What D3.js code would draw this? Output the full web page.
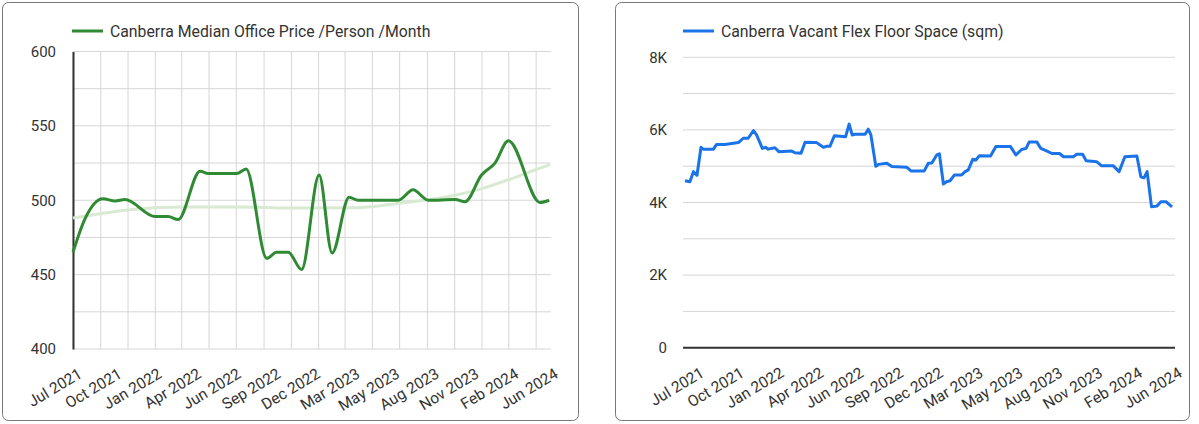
<!DOCTYPE html>
<html>
<head>
<meta charset="utf-8">
<script src="https://cdn.jsdelivr.net/npm/d3@7"></script>
<style>
  body { margin: 0; background: #fff; }
  svg text { font-family: Roboto, "Noto Sans", sans-serif; }
</style>
</head>
<body>
<div id="charts"></div>
<script>
// x axis labels (same on both panels)
var xLabels = ["Jul 2021", "Oct 2021", "Jan 2022", "Apr 2022", "Jun 2022", "Sep 2022", "Dec 2022",
               "Mar 2023", "May 2023", "Aug 2023", "Nov 2023", "Feb 2024", "Jun 2024"];

// left panel: median office price / person / month
var priceTicks = [400, 450, 500, 550, 600];
var priceDates = ["2021-07-01", "2021-07-27", "2021-09-06", "2021-10-03", "2021-10-25", "2022-01-01",
                  "2022-01-30", "2022-02-21", "2022-04-11", "2022-04-29", "2022-07-02", "2022-07-23",
                  "2022-09-07", "2022-09-29", "2022-10-25", "2022-11-24", "2023-01-02", "2023-01-31",
                  "2023-03-10", "2023-03-30", "2023-06-28", "2023-07-31", "2023-09-03", "2023-11-02",
                  "2023-11-24", "2023-12-31", "2024-01-30", "2024-02-29", "2024-05-10", "2024-05-30"];
var priceValues = [465, 487, 501, 499.5, 500.5, 489,
                   489, 487, 519.5, 518, 518, 521,
                   461, 465, 465, 453.5, 517, 464.5,
                   502, 500, 500, 507, 500, 500.5,
                   499, 517, 525, 540, 498.5, 500];
var trendDates = ["2021-07-01", "2021-11-17", "2022-03-02", "2022-07-02", "2022-10-29", "2023-03-30",
                  "2023-07-02", "2023-09-02", "2023-11-02", "2023-12-31", "2024-02-29", "2024-04-25", "2024-06-01"];
var trendValues = [488, 494, 495.5, 495.5, 494.8, 495, 498, 500.3, 503.4, 507.8, 513.8, 520, 524];

// right panel: vacant flex floor space (sqm)
var flexTicks = [0, 1000, 2000, 3000, 4000, 5000, 6000, 7000, 8000];
var flexDates = ["2021-07-01", "2021-07-12", "2021-07-20", "2021-07-25", "2021-07-28", "2021-08-06",
                 "2021-08-11", "2021-09-03", "2021-09-10", "2021-09-29", "2021-10-29", "2021-11-09",
                 "2021-11-20", "2021-12-02", "2021-12-09", "2021-12-22", "2021-12-29", "2022-01-04",
                 "2022-01-19", "2022-01-28", "2022-02-26", "2022-03-05", "2022-03-19", "2022-03-28",
                 "2022-04-23", "2022-05-08", "2022-05-16", "2022-05-23", "2022-06-02", "2022-06-27",
                 "2022-07-05", "2022-07-12", "2022-07-18", "2022-08-10", "2022-08-17", "2022-08-23",
                 "2022-09-03", "2022-09-09", "2022-09-28", "2022-10-09", "2022-11-12", "2022-11-21",
                 "2022-12-21", "2022-12-30", "2023-01-07", "2023-01-18", "2023-01-24", "2023-02-02",
                 "2023-02-09", "2023-02-17", "2023-02-27", "2023-03-15", "2023-03-23", "2023-03-30",
                 "2023-04-09", "2023-04-16", "2023-04-24", "2023-05-19", "2023-05-31", "2023-07-03",
                 "2023-07-15", "2023-07-28", "2023-08-07", "2023-08-14", "2023-08-31", "2023-09-09",
                 "2023-09-22", "2023-10-04", "2023-10-21", "2023-10-30", "2023-11-21", "2023-11-29",
                 "2023-12-12", "2023-12-20", "2024-01-13", "2024-01-24", "2024-02-19", "2024-03-03",
                 "2024-03-16", "2024-04-12", "2024-04-21", "2024-04-28", "2024-05-05", "2024-05-15",
                 "2024-05-27", "2024-06-05", "2024-06-17", "2024-06-30"];
var flexValues = [4600, 4570, 4850, 4780, 4750, 5520,
                  5470, 5470, 5600, 5600, 5650, 5770,
                  5770, 5980, 5860, 5490, 5520, 5470,
                  5510, 5400, 5420, 5370, 5360, 5660,
                  5650, 5520, 5550, 5550, 5840, 5810,
                  6160, 5860, 5880, 5880, 6020, 5860,
                  5000, 5050, 5080, 4990, 4970, 4870,
                  4870, 5080, 5090, 5310, 5340, 4510,
                  4570, 4600, 4760, 4760, 4850, 4900,
                  5190, 5170, 5290, 5280, 5540, 5540,
                  5310, 5460, 5490, 5670, 5670, 5490,
                  5420, 5350, 5350, 5260, 5260, 5330,
                  5330, 5150, 5120, 5010, 5010, 4850,
                  5260, 5280, 4710, 4680, 4850, 3880,
                  3900, 4020, 4020, 3880];

var parseDate = d3.timeParse("%Y-%m-%d");

var svg = d3.select("#charts")
  .append("svg")
    .attr("width", 1199)
    .attr("height", 424);

// panel frames
svg.append("rect")
  .attr("x", 2.5).attr("y", 2.5).attr("width", 576).attr("height", 418).attr("rx", 6)
  .attr("fill", "#fff").attr("stroke", "#777");
svg.append("rect")
  .attr("x", 615.5).attr("y", 2.5).attr("width", 574).attr("height", 418).attr("rx", 6)
  .attr("fill", "#fff").attr("stroke", "#777");

function drawXLabels(g, range, yBase) {
  var xl = d3.scalePoint().domain(xLabels).range(range);
  var ax = g.append("g")
    .attr("transform", "translate(0," + yBase + ")")
    .call(d3.axisBottom(xl).tickSize(0));
  ax.select(".domain").remove();
  ax.selectAll("text")
    .attr("font-size", 15.5)
    .attr("fill", "#333")
    .attr("text-anchor", "end")
    .attr("transform", "translate(7,23) rotate(-31)")
    .attr("dy", "0.35em")
    .attr("y", 0);
}

function drawLegend(g, x, y, color, label) {
  g.append("line")
    .attr("x1", x).attr("x2", x + 31).attr("y1", y).attr("y2", y)
    .attr("stroke", color).attr("stroke-width", 3);
  g.append("text")
    .attr("x", x + 38).attr("y", y + 5.5)
    .attr("font-size", 15.8).attr("fill", "#333")
    .text(label);
}

// ---------- left chart ----------
var left = svg.append("g");
var xL = d3.scaleTime()
  .domain([parseDate("2021-07-01"), parseDate("2024-06-01")])
  .range([73, 550]);
var yL = d3.scaleLinear().domain([400, 600]).range([349, 51.5]);

// horizontal grid every 25
var hGrid = d3.range(400, 601, 25);
left.append("g").selectAll("line")
  .data(hGrid).enter().append("line")
    .attr("x1", 73).attr("x2", 551)
    .attr("y1", function(d) { return yL(d); })
    .attr("y2", function(d) { return yL(d); })
    .attr("stroke", "#d6d6d6").attr("stroke-width", 1);
// vertical grid every 2 months
left.append("g").selectAll("line")
  .data(xL.ticks(d3.timeMonth.every(2))).enter().append("line")
    .attr("x1", function(d) { return xL(d); })
    .attr("x2", function(d) { return xL(d); })
    .attr("y1", yL(600)).attr("y2", yL(400))
    .attr("stroke", "#d6d6d6").attr("stroke-width", 1);

var yAxL = left.append("g")
  .attr("transform", "translate(73,0)")
  .call(d3.axisLeft(yL).tickValues(priceTicks).tickSize(0).tickPadding(17));
yAxL.select(".domain").attr("stroke", "#333").attr("stroke-width", 2);
yAxL.selectAll("text").attr("font-size", 15).attr("fill", "#333");

drawXLabels(left, [73, 549], 349);

var trend = trendDates.map(function(d, i) { return {date: parseDate(d), value: trendValues[i]}; });
left.append("path")
  .datum(trend)
  .attr("fill", "none")
  .attr("stroke", "#d9ead3")
  .attr("stroke-width", 3)
  .attr("d", d3.line()
    .curve(d3.curveMonotoneX)
    .x(function(d) { return xL(d.date); })
    .y(function(d) { return yL(d.value); }));

var price = priceDates.map(function(d, i) { return {date: parseDate(d), value: priceValues[i]}; });
left.append("path")
  .datum(price)
  .attr("fill", "none")
  .attr("stroke", "#2f8a33")
  .attr("stroke-width", 3)
  .attr("d", d3.line()
    .curve(d3.curveMonotoneX)
    .x(function(d) { return xL(d.date); })
    .y(function(d) { return yL(d.value); }));

drawLegend(left, 72, 31, "#2f8a33", "Canberra Median Office Price /Person /Month");

// ---------- right chart ----------
var right = svg.append("g");
var xR = d3.scaleTime()
  .domain([parseDate("2021-07-01"), parseDate("2024-06-30")])
  .range([685, 1172]);
var yR = d3.scaleLinear().domain([0, 8000]).range([347.7, 57.3]);

right.append("g").selectAll("line")
  .data(flexTicks.slice(1)).enter().append("line")
    .attr("x1", 683).attr("x2", 1175)
    .attr("y1", function(d) { return yR(d); })
    .attr("y2", function(d) { return yR(d); })
    .attr("stroke", "#d6d6d6").attr("stroke-width", 1);
right.append("line")
  .attr("x1", 683).attr("x2", 1175)
  .attr("y1", yR(0)).attr("y2", yR(0))
  .attr("stroke", "#333").attr("stroke-width", 2);

var yAxR = right.append("g")
  .attr("transform", "translate(683,0)")
  .call(d3.axisLeft(yR).tickValues([0, 2000, 4000, 6000, 8000]).tickSize(0).tickPadding(16)
    .tickFormat(function(d) { return d === 0 ? "0" : (d / 1000) + "K"; }));
yAxR.select(".domain").remove();
yAxR.selectAll("text").attr("font-size", 15).attr("fill", "#333");

drawXLabels(right, [695, 1173], 348);

var flex = flexDates.map(function(d, i) { return {date: parseDate(d), value: flexValues[i]}; });
right.append("path")
  .datum(flex)
  .attr("fill", "none")
  .attr("stroke", "#1a73e8")
  .attr("stroke-width", 3)
  .attr("stroke-linejoin", "round")
  .attr("d", d3.line()
    .x(function(d) { return xR(d.date); })
    .y(function(d) { return yR(d.value); }));

drawLegend(right, 683, 31, "#1a73e8", "Canberra Vacant Flex Floor Space (sqm)");
</script>
</body>
</html>
